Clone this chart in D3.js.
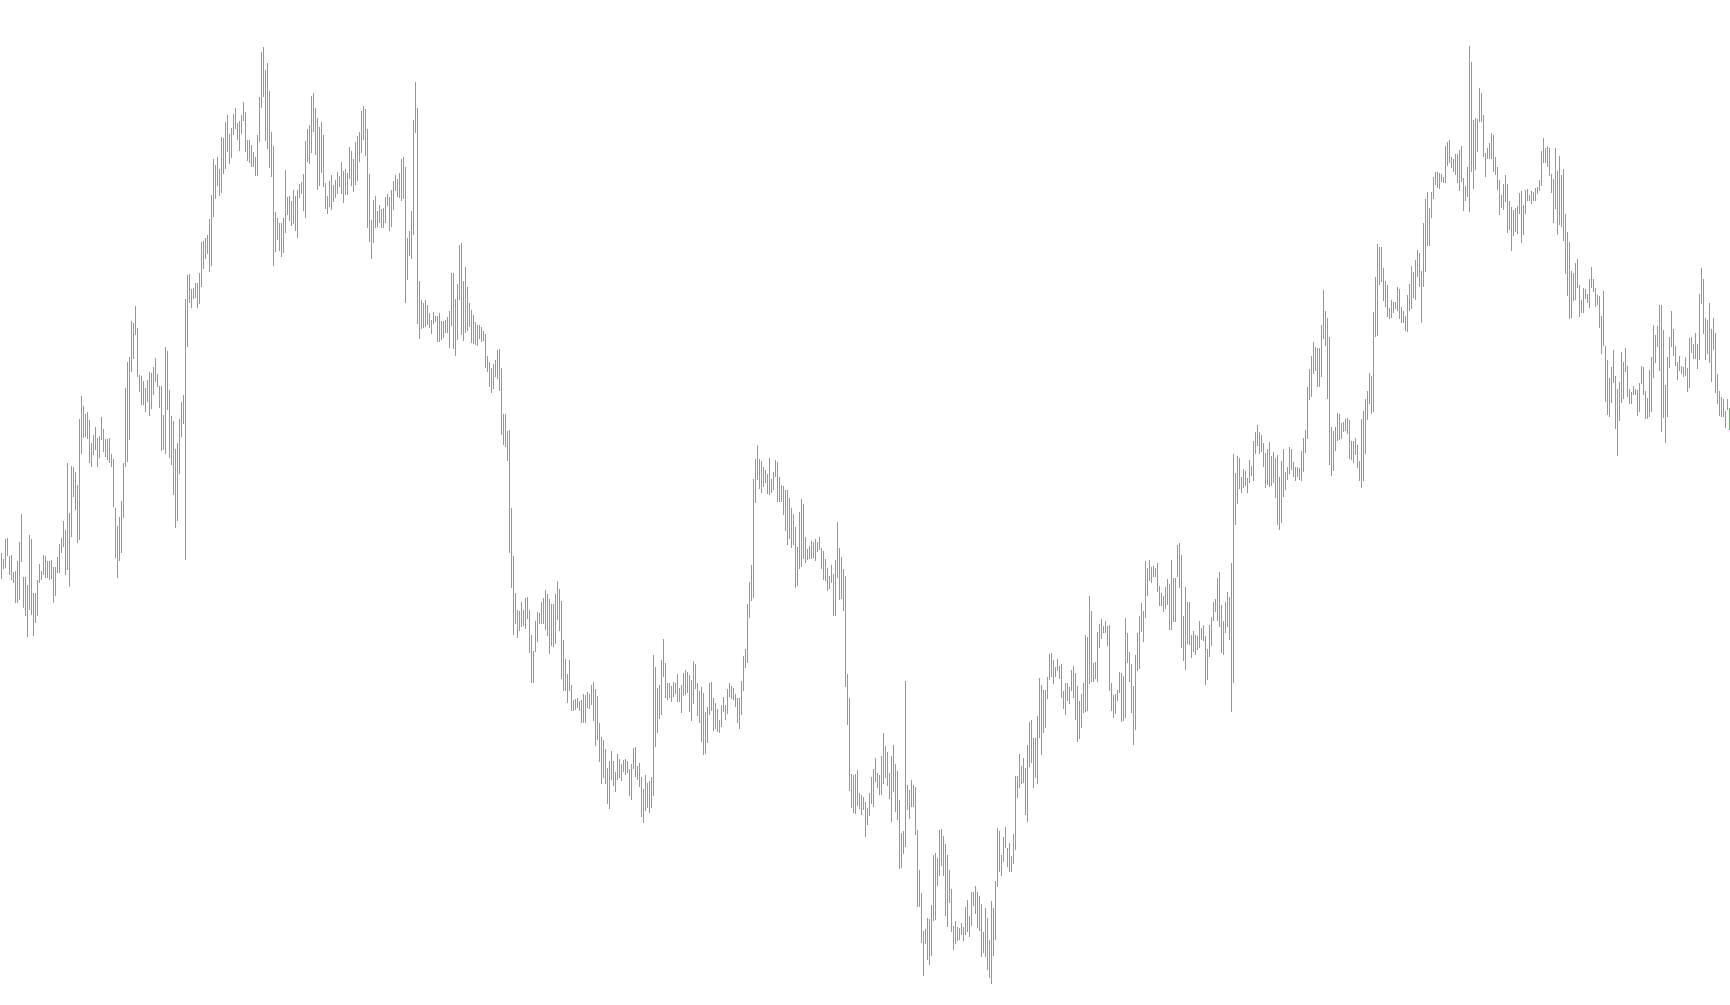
<!DOCTYPE html>
<html>
<head>
<meta charset="utf-8">
<script src="https://cdn.jsdelivr.net/npm/d3@7"></script>
<style>
  html, body { margin: 0; padding: 0; background: #ffffff; overflow: hidden; }
  svg { display: block; }
</style>
</head>
<body>
<svg id="chart" width="1730" height="1005"></svg>
<script>
// Bar highs (price units) — one per session
const highs = [
  447,441,461,462,444,445,428,429,439,458,
  486,423,423,415,465,461,407,407,420,436,
  429,445,444,439,439,440,433,433,443,456,
  462,479,470,537,487,534,533,528,515,581,
  604,594,586,588,580,557,565,573,562,564,
  583,571,561,561,562,546,541,492,474,483,
  499,537,612,638,643,679,677,694,672,625,
  624,619,612,620,628,627,633,642,626,614,
  614,585,653,649,610,584,579,551,557,581,
  598,605,701,725,726,711,712,717,717,727,
  758,759,762,765,781,805,841,835,843,831,
  863,862,878,885,866,872,886,892,877,879,
  885,898,888,860,860,855,848,843,865,903,
  948,953,930,937,909,868,854,788,782,777,
  777,782,830,803,804,799,810,804,810,816,
  818,826,859,871,875,904,907,892,882,873,
  878,865,817,804,819,825,815,820,828,824,
  838,829,831,827,853,849,841,858,864,868,
  889,894,891,871,826,780,800,804,789,795,
  791,792,803,806,803,810,819,825,821,827,
  841,843,833,762,769,789,880,918,892,719,
  700,697,700,695,687,680,688,684,684,687,
  679,679,680,683,689,727,727,701,716,755,
  757,719,733,713,697,690,685,678,675,675,
  673,669,666,644,638,632,636,640,650,651,
  632,586,586,569,570,492,444,407,390,389,
  398,390,402,403,390,365,349,379,388,387,
  398,402,410,406,401,396,396,406,419,411,
  399,360,341,326,340,315,300,301,302,299,
  300,306,305,308,306,315,318,311,304,277,
  263,260,251,232,239,249,239,228,246,241,
  236,240,241,239,231,236,252,253,234,237,
  223,211,225,217,219,223,345,333,312,315,
  340,361,337,317,317,314,318,317,326,312,
  315,327,330,328,325,320,339,336,317,309,
  313,307,288,293,317,318,302,297,291,280,
  295,303,295,311,317,314,312,306,302,302,
  319,344,351,396,418,435,521,541,555,541,
  539,533,530,526,542,521,528,540,538,523,
  515,514,510,510,502,492,486,473,453,488,
  501,496,463,451,454,459,458,461,458,463,
  452,449,441,432,424,435,426,440,478,452,
  443,431,424,326,302,226,225,226,230,207,
  205,203,198,192,207,223,231,242,227,225,
  244,267,254,248,227,244,255,236,229,200,
  167,169,319,215,210,220,215,213,170,130,
  107,69,71,82,81,95,145,147,142,170,
  171,164,156,145,130,111,74,79,73,72,
  77,73,93,100,84,108,108,114,108,104,
  96,68,92,82,60,99,92,119,172,169,
  145,163,173,152,157,144,166,224,224,246,
  234,242,232,255,278,280,262,262,284,322,
  315,310,310,323,346,347,340,333,341,334,
  336,309,317,317,313,330,334,327,314,299,
  306,317,365,363,404,389,337,338,368,376,
  381,374,379,374,375,317,305,306,310,328,
  327,324,382,367,348,336,314,345,367,384,
  397,389,439,432,440,433,434,432,437,414,
  407,404,413,421,416,440,422,422,455,457,
  445,384,413,398,398,365,369,365,364,379,
  372,375,364,351,375,383,398,401,422,428,
  395,379,398,408,403,437,546,527,544,542,
  523,531,529,522,540,534,559,568,575,568,
  565,557,547,551,558,544,548,542,545,523,
  539,551,528,533,553,551,538,533,533,532,
  549,562,570,613,631,644,658,653,652,652,
  675,710,689,682,663,573,569,573,587,586,
  577,578,581,582,580,559,559,562,555,539,
  581,589,601,609,627,624,688,723,756,753,
  753,732,719,715,692,700,698,698,713,711,
  693,689,684,705,716,734,728,740,750,747,
  729,777,801,808,792,808,823,828,828,827,
  826,823,854,858,860,843,841,846,846,850,
  854,822,814,833,954,938,880,882,881,912,
  907,885,847,852,857,867,865,843,833,820,
  805,816,825,816,799,793,790,792,794,807,
  809,795,810,811,805,809,808,812,813,820,
  849,862,852,854,852,826,821,852,829,844,
  825,831,786,768,758,729,727,737,741,715,
  700,712,711,706,721,733,721,712,705,704,
  684,709,654,640,622,633,650,624,611,618,
  648,638,652,634,611,608,614,611,610,617,
  634,633,609,602,630,643,675,665,674,695,
  695,670,615,643,663,689,671,654,638,644,
  634,633,643,632,662,663,656,667,656,706,
  732,721,682,680,697,671,682,667,626,609,
  603,601,589,601,592
];

// Bar lows (price units)
const lows = [
  421,431,432,444,425,420,417,397,397,400,
  438,392,384,363,390,385,364,377,384,417,
  420,425,422,422,420,421,397,404,427,427,
  447,453,425,430,413,463,503,490,457,460,
  546,562,563,561,537,533,545,550,533,542,
  560,548,543,540,537,533,493,442,422,439,
  447,482,533,538,560,628,641,665,623,608,
  595,595,588,598,584,591,605,618,613,592,
  549,550,546,590,542,535,505,472,479,526,
  563,576,440,653,697,692,701,702,692,696,
  713,731,741,746,728,734,783,801,814,804,
  807,826,831,848,836,842,865,871,860,849,
  866,879,848,839,837,833,833,824,824,858,
  892,903,859,851,832,823,734,748,760,749,
  743,747,767,785,779,774,776,769,762,802,
  806,789,782,838,836,847,868,845,810,814,
  827,813,791,786,793,790,798,802,806,813,
  806,797,805,805,821,814,808,815,819,838,
  847,860,844,772,758,741,757,772,773,777,
  772,772,777,794,769,773,790,809,803,802,
  799,801,697,720,744,741,765,867,676,661,
  671,672,673,675,672,666,676,678,658,658,
  660,662,667,667,652,674,651,644,660,700,
  665,659,667,669,673,657,656,655,654,661,
  658,659,632,628,613,607,611,623,621,609,
  565,555,553,539,447,412,365,376,362,369,
  373,374,371,381,347,317,317,348,358,376,
  376,376,370,364,346,354,353,356,380,369,
  321,309,309,297,309,289,289,290,292,289,
  277,277,277,292,291,295,279,254,260,238,
  216,222,216,196,191,220,214,208,220,222,
  219,228,225,227,204,200,231,223,220,213,
  183,177,189,192,187,192,204,253,267,281,
  285,323,302,300,302,298,303,306,298,298,
  287,304,305,307,288,279,296,311,284,277,
  258,245,246,257,285,289,269,271,268,267,
  273,288,280,286,303,301,300,293,277,271,
  285,309,332,337,382,399,402,497,520,511,
  507,513,517,506,505,507,510,523,498,498,
  498,485,469,455,461,452,455,412,414,431,
  433,441,437,440,441,441,442,439,448,450,
  431,420,419,409,411,417,384,384,422,400,
  401,389,313,275,209,192,187,186,194,191,
  185,190,163,175,184,196,193,218,212,205,
  205,216,222,214,201,178,208,188,180,131,
  132,146,153,190,181,193,193,165,93,93,
  57,24,56,40,35,44,79,80,114,124,
  134,124,84,73,97,68,50,56,59,60,
  65,59,65,68,63,74,94,86,72,69,
  43,47,43,30,22,16,44,60,113,128,
  124,138,152,133,128,128,136,150,202,212,
  216,217,185,178,233,237,212,222,216,262,
  245,267,272,301,320,323,316,323,329,321,
  302,291,285,299,296,309,302,280,258,261,
  272,287,288,289,316,318,318,321,318,352,
  361,367,367,354,309,289,282,286,299,307,
  278,279,282,337,318,287,255,270,329,331,
  368,358,382,404,419,417,423,423,408,394,
  394,388,391,395,370,370,378,378,423,412,
  352,339,330,356,355,342,348,345,350,352,
  360,359,315,320,343,354,379,388,379,373,
  347,345,367,373,360,288,317,475,496,511,
  507,512,514,507,517,524,519,546,554,546,
  548,533,512,515,513,514,517,502,475,470,
  477,503,510,520,526,530,523,519,523,520,
  519,528,547,561,600,603,626,629,613,613,
  623,661,654,601,535,524,529,549,559,560,
  561,568,569,566,541,540,537,545,532,519,
  512,519,546,580,596,586,588,663,664,715,
  718,699,693,683,681,682,687,691,689,681,
  677,677,669,668,689,691,702,700,723,713,
  677,713,728,754,754,782,801,815,812,811,
  818,817,817,834,837,832,828,825,817,809,
  818,789,799,803,788,828,811,830,848,878,
  878,843,823,841,841,841,828,825,810,785,
  792,790,798,767,770,749,764,768,766,786,
  757,765,786,799,799,796,799,799,806,809,
  814,837,837,833,824,807,777,791,765,775,
  773,759,726,704,681,682,699,700,712,683,
  687,687,701,697,692,712,708,693,695,672,
  646,654,598,585,583,597,617,571,544,579,
  597,601,628,603,596,596,605,605,584,588,
  616,605,581,581,583,588,622,637,653,629,
  568,582,557,583,632,653,644,634,620,629,
  626,623,624,608,612,647,641,641,631,640,
  696,666,640,646,637,618,650,607,596,584,
  583,583,572,590,570
];

const barColor = "#00ff00";

const W = 1730, H = 1005;
const n = Math.min(highs.length, lows.length);
const bars = d3.range(n).map(i => ({ i, high: highs[i], low: lows[i] }));

const x = d3.scaleLinear().domain([0, n - 1]).range([1, 1 + 2 * (n - 1)]);
const y = d3.scaleLinear().domain([0, 1000]).range([1000, 0]);

const svg = d3.select("#chart");
svg.append("rect").attr("width", W).attr("height", H).attr("fill", "#ffffff");

svg.append("g")
  .attr("shape-rendering", "crispEdges")
  .selectAll("rect")
  .data(bars)
  .join("rect")
  .attr("x", d => Math.round(x(d.i)))
  .attr("y", d => Math.round(y(d.high)))
  .attr("width", 1)
  .attr("height", d => Math.max(1, Math.round(y(d.low)) - Math.round(y(d.high))))
  .attr("fill", barColor);
</script>
</body>
</html>
